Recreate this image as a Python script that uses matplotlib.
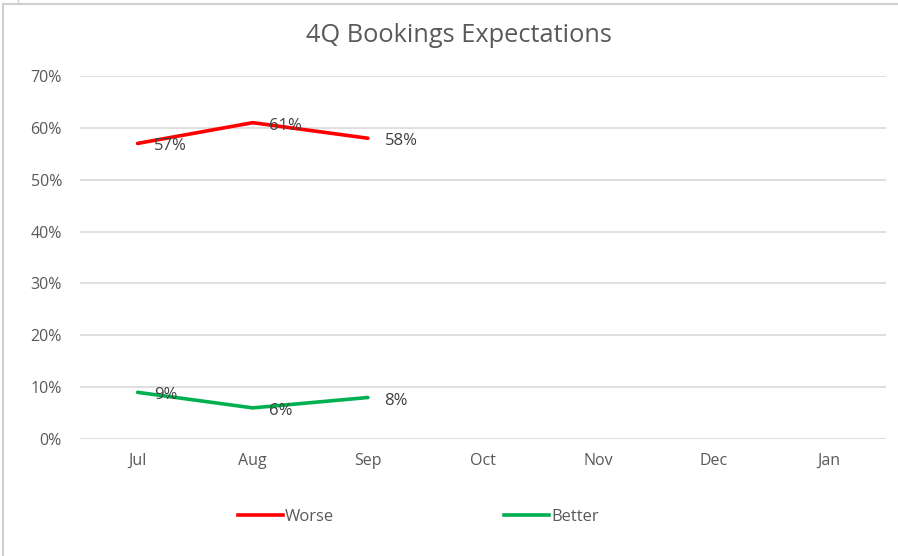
import matplotlib
matplotlib.use("Agg")
import matplotlib.pyplot as plt
from matplotlib.patches import Rectangle
from matplotlib.lines import Line2D

categories = ["Jul", "Aug", "Sep", "Oct", "Nov", "Dec", "Jan"]
worse = [57, 61, 58]
better = [9, 6, 8]
yticks = [0, 10, 20, 30, 40, 50, 60, 70]
ytick_labels = ["0%", "10%", "20%", "30%", "40%", "50%", "60%", "70%"]

plt.rcParams['font.family'] = ['Open Sans', 'DejaVu Sans']

fig = plt.figure(figsize=(8.98, 5.56), dpi=100)
ax = fig.add_axes([80/898, 1-439/556, (886-80)/898, (439-76)/556])

grid_c = "#D9D9D9"
for y in yticks:
    ax.axhline(y, color=grid_c, lw=1.2, zorder=0)

x = list(range(len(categories)))
ax.plot(x[:len(worse)], worse, color="#FF0000", lw=2.6, solid_capstyle="round", label="Worse", zorder=3)
ax.plot(x[:len(better)], better, color="#00B050", lw=2.6, solid_capstyle="round", label="Better", zorder=3)

for xi, v in zip(x, worse):
    ax.annotate(f"{v}%", (xi, v), xytext=(12, -2.2), textcoords="offset points",
                ha="left", va="center", fontsize=12, color="#404040", zorder=4)
for xi, v in zip(x, better):
    ax.annotate(f"{v}%", (xi, v), xytext=(12, -2.2), textcoords="offset points",
                ha="left", va="center", fontsize=12, color="#404040", zorder=4)

ax.set_xlim(-0.5, len(categories) - 0.5)
ax.set_ylim(0, 70)
ax.set_xticks(x)
ax.set_xticklabels(categories)
ax.set_yticks(yticks)
ax.set_yticklabels(ytick_labels)
ax.tick_params(axis="both", length=0, colors="#595959", labelsize=11.5)
ax.tick_params(axis="y", pad=13)
ax.tick_params(axis="x", pad=10)
for s in ax.spines.values():
    s.set_visible(False)

fig.text(459/898, 1-36/556, "4Q Bookings Expectations", ha="center", va="center",
         fontsize=18.3, color="#595959")

handles = [Line2D([0], [0], color="#FF0000", lw=2.6),
           Line2D([0], [0], color="#00B050", lw=2.6)]
fig.legend(handles, ["Worse", "Better"], loc="center", bbox_to_anchor=(0.466, 1-517/556),
           ncol=2, frameon=False, fontsize=12, handlelength=2.7, handletextpad=0.15,
           columnspacing=10.2, labelcolor="#595959")

# chart border
fig.patches.append(Rectangle((3/898, -0.1), 1.0, 1-4/556+0.1, transform=fig.transFigure,
                             fill=False, edgecolor="#D0D0D0", lw=1.5))
fig.lines.append(Line2D([18/898, 18/898], [1, 1-4/556], transform=fig.transFigure,
                        color="#D0D0D0", lw=1.0))

fig.savefig("out.png", dpi=100)
